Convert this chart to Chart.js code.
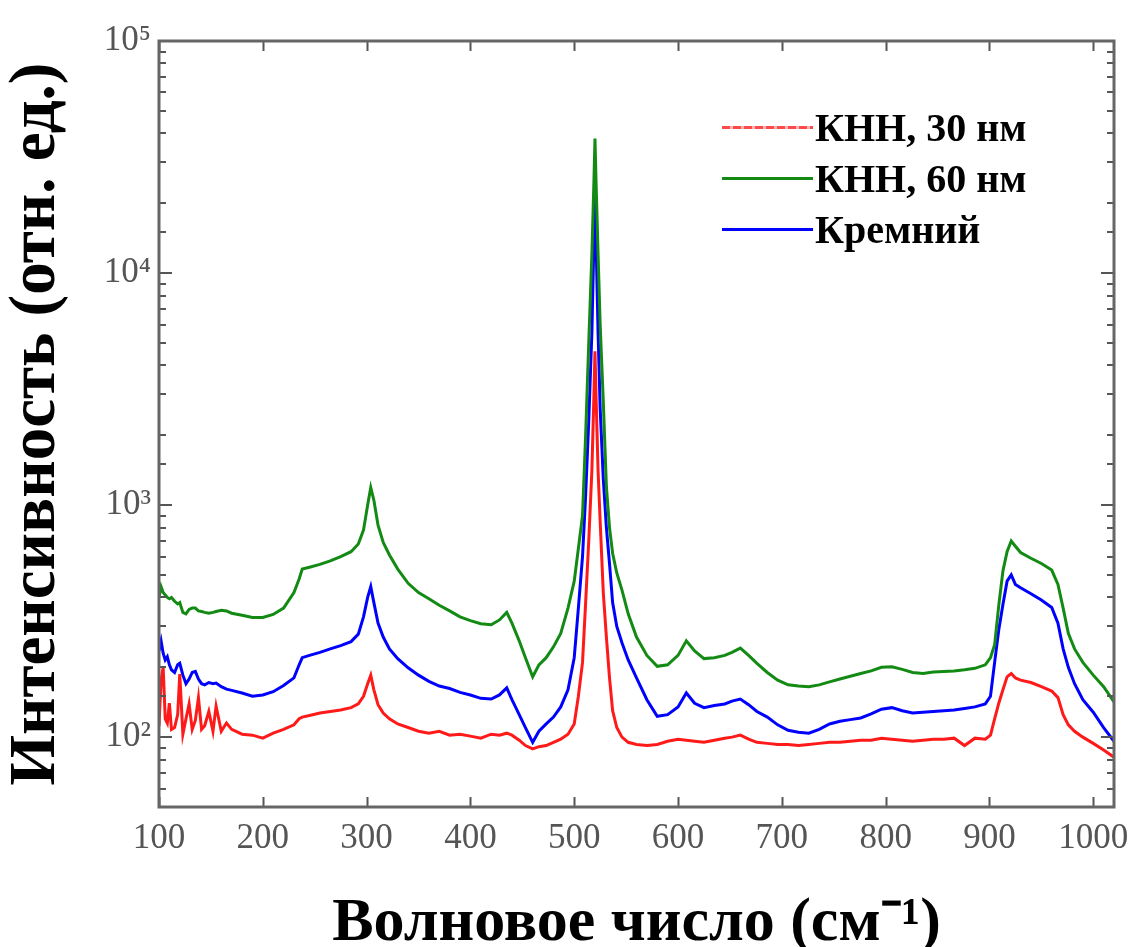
<!DOCTYPE html>
<html>
<head>
<meta charset="utf-8">
<script src="https://cdn.jsdelivr.net/npm/chart.js@4.4.0/dist/chart.umd.min.js"></script>
<style>
  body { margin: 0; background: #fff; }
  #wrap { position: relative; width: 1131px; height: 947px; }
  .legend { position: absolute; left: 722px; top: 102px; font-family: 'Liberation Serif', serif; font-weight: bold; font-size: 40px; color: #000; }
  .legend .row { display: flex; align-items: center; height: 51px; line-height: 51px; white-space: nowrap; }
  .legend .swatch { display: inline-block; width: 91px; height: 3px; margin-right: 2px; }
</style>
</head>
<body>
<div id="wrap">
  <canvas id="myChart"></canvas>
  <div class="legend" id="legend"></div>
</div>
<script>
// Wavenumbers (cm^-1) at which the spectra were read
const wavenumber = [
    100, 102, 104, 106, 108, 110, 112, 115, 118, 120, 123, 126, 129, 132, 135, 138, 141, 144, 148, 152, 155,
    160, 165, 170, 180, 190, 200, 210, 220, 230, 235, 238, 245, 255, 265, 275, 285, 292,
    297, 301, 304, 307, 311, 316, 322, 330, 340, 350, 360, 370, 380, 390, 400, 410, 420, 428, 435,
    440, 447, 453, 460, 466, 473, 480, 487, 494, 500,
    504, 508, 511, 514, 517, 519, 520, 521, 523, 525, 528, 531, 534, 537, 541, 546, 552,
    560, 570, 580, 590, 600, 608, 616, 625, 635, 645, 652, 660, 668, 676, 686, 696,
    706, 716, 726, 736, 746, 756, 766, 776, 786, 796, 806, 816, 826, 836, 846, 856, 866, 876, 886, 896,
    901, 905, 909, 913, 917, 921, 925, 930, 940, 950, 960, 966, 971, 976, 982, 990, 1000, 1010, 1020
];

// КНН, 30 нм
const knn30 = [
    112, 175, 200, 120, 115, 140, 108, 110, 125, 187, 103, 120, 139, 108, 118, 148, 108, 112, 129, 106, 136,
    106, 115, 108, 103, 102, 99, 104, 108, 113, 120, 122, 124, 127, 129, 131, 134, 139,
    150, 170, 185, 160, 138, 127, 120, 114, 110, 106, 104, 106, 102, 103, 101, 99, 103, 102, 104,
    102, 97, 92, 89, 91, 92, 95, 98, 103, 114,
    150, 210, 380, 700, 1400, 3000, 4600, 3000, 1400, 850, 420, 270, 180, 130, 110, 100, 95,
    93, 92, 93, 96, 98, 97, 96, 95, 97, 99, 100, 102, 98, 95, 94, 93,
    93, 92, 93, 94, 95, 95, 96, 97, 97, 99, 98, 97, 96, 97, 98, 98, 99, 92, 99, 98,
    102, 120, 140, 160, 182, 188, 180, 176, 172, 165, 158, 148, 125, 113, 106, 100, 94, 88, 82
];

// КНН, 60 нм
const knn60 = [
    400, 445, 420, 410, 400, 395, 400, 385, 375, 380, 345, 340, 355, 360, 360, 350, 348, 345, 342, 345, 348,
    352, 350, 342, 335, 328, 328, 338, 360, 420, 480, 530, 540, 555, 575, 600, 630, 680,
    780, 1000, 1190, 1050, 820, 690, 610, 530, 460, 420, 395, 370, 350, 330, 318, 308, 305, 320, 345,
    310, 260, 220, 182, 205, 220, 245, 280, 360, 470,
    650, 900, 2000, 5000, 12000, 25000, 38000, 25000, 12000, 6000, 2800, 1200, 800, 620, 510, 430, 340,
    270, 225, 202, 205, 225, 260, 235, 218, 220, 225, 232, 242, 225, 208, 190, 176,
    168, 166, 165, 168, 173, 178, 183, 188, 193, 200, 201, 196, 190, 188, 191, 192, 193, 195, 198, 205,
    220, 250, 370, 520, 630, 700, 665, 625, 590, 560, 525, 455, 360, 280, 240, 210, 185, 165, 142
];

// Кремний
const silicon = [
    235, 260, 230, 215, 222, 205, 195, 190, 205, 208, 185, 170, 178, 190, 192, 178, 170, 168, 172, 170, 171,
    165, 161, 159, 155, 150, 152, 157, 167, 180, 205, 220, 225, 232, 240, 248, 258, 278,
    330, 400, 445, 380, 310, 270, 240, 218, 199, 185, 174, 166, 162, 156, 152, 147, 146, 152, 163,
    145, 125, 110, 95, 106, 114, 122, 135, 160, 220,
    360, 600, 1100, 2300, 5500, 14000, 23500, 14000, 5500, 2600, 1300, 800, 560, 380, 300, 255, 215,
    180, 145, 123, 125, 135, 155, 140, 134, 137, 139, 143, 146, 138, 129, 122, 113,
    107, 105, 104, 108, 114, 117, 119, 121, 126, 132, 134, 130, 127, 128, 129, 130, 131, 133, 135, 139,
    150, 210, 290, 373, 470, 500, 455, 440, 415, 390, 362, 310, 240, 200, 170, 145, 128, 110, 96
];

const seriesNames = ['КНН, 30 нм', 'КНН, 60 нм', 'Кремний'];
const xTicks = [100, 200, 300, 400, 500, 600, 700, 800, 900, 1000];
const yTickValues = [100, 1000, 10000, 100000];
const yTickLabels = ['10²', '10³', '10⁴', '10⁵'];

const toPoints = vals => wavenumber.map((w, i) => ({ x: w, y: vals[i] }));

// Inward tick marks and the box around the plot (MATLAB style)
const frameTicks = {
    id: 'frameTicks',
    afterDatasetsDraw(chart) {
        const { ctx, chartArea: a, scales: { x, y } } = chart;
        ctx.save();
        ctx.strokeStyle = '#555';
        ctx.lineWidth = 2;
        const seg = (x1, y1, x2, y2) => { ctx.beginPath(); ctx.moveTo(x1, y1); ctx.lineTo(x2, y2); ctx.stroke(); };
        x.ticks.forEach(t => {
            const px = Math.round(x.getPixelForValue(t.value)) + 0.5;
            seg(px, a.bottom, px, a.bottom - 10);
            seg(px, a.top, px, a.top + 10);
        });
        y.ticks.forEach(t => {
            const py = Math.round(y.getPixelForValue(t.value));
            if (py < a.top || py > a.bottom) return;
            const len = yTickValues.includes(t.value) ? 13 : 7;
            seg(a.left, py, a.left + len, py);
            seg(a.right, py, a.right - len, py);
        });
        ctx.lineWidth = 3;
        ctx.strokeStyle = '#666';
        ctx.strokeRect(a.left, a.top, a.right - a.left, a.bottom - a.top);
        ctx.restore();
    }
};

const colors = ['#ff1a1a', '#138a13', '#0000ff'];

Chart.defaults.font.family = "'Liberation Serif', serif";

const ctx = document.getElementById('myChart').getContext('2d');
const myChart = new Chart(ctx, {
    type: 'line',
    data: {
        datasets: [{
            label: seriesNames[0],
            data: toPoints(knn30),
            borderColor: colors[0],
            borderWidth: 3,
            pointRadius: 0,
            tension: 0
        }, {
            label: seriesNames[1],
            data: toPoints(knn60),
            borderColor: colors[1],
            borderWidth: 3,
            pointRadius: 0,
            tension: 0
        }, {
            label: seriesNames[2],
            data: toPoints(silicon),
            borderColor: colors[2],
            borderWidth: 3,
            pointRadius: 0,
            tension: 0
        }]
    },
    options: {
        responsive: true,
        maintainAspectRatio: false,
        animation: false,
        layout: { padding: { top: 41, right: 17, left: 0, bottom: 0 } },
        plugins: {
            legend: { display: false },
            tooltip: { enabled: false }
        },
        scales: {
            x: {
                type: 'linear',
                min: 100,
                max: 1020,
                afterBuildTicks: scale => { scale.ticks = xTicks.map(v => ({ value: v })); },
                afterFit: scale => {
                    scale.height = 140;
                    scale.paddingLeft = 0;
                    scale.paddingRight = 0;
                },
                grid: { display: false, drawTicks: false },
                border: { display: false },
                ticks: {
                    padding: 11,
                    color: '#555',
                    font: { size: 35 },
                    maxRotation: 0,
                    autoSkip: false,
                    callback: v => String(v)
                },
                title: {
                    display: true,
                    text: 'Волновое число (см⁻¹)',
                    color: '#000',
                    font: { size: 62, weight: 'bold', lineHeight: 1 },
                    padding: { top: 0, bottom: -8 }
                }
            },
            y: {
                type: 'logarithmic',
                min: 50,
                max: 100000,
                afterFit: scale => {
                    scale.width = 159;
                    scale.paddingTop = 0;
                    scale.paddingBottom = 0;
                },
                grid: { display: false, drawTicks: false },
                border: { display: false },
                ticks: {
                    padding: 8,
                    color: '#555',
                    font: { size: 35 },
                    autoSkip: false,
                    callback: v => {
                        const i = yTickValues.indexOf(v);
                        return i >= 0 ? yTickLabels[i] : '';
                    }
                },
                title: {
                    display: true,
                    text: 'Интенсивность (отн. ед.)',
                    color: '#000',
                    font: { size: 65, weight: 'bold', lineHeight: 1.15 },
                    padding: 0
                }
            }
        }
    },
    plugins: [frameTicks]
});

// Legend inside the plot, top right
const legend = document.getElementById('legend');
seriesNames.forEach((name, i) => {
    const row = document.createElement('div');
    row.className = 'row';
    const swatch = document.createElement('span');
    swatch.className = 'swatch';
    swatch.style.background = i === 0
        ? 'repeating-linear-gradient(to right, #ff4a4a 0 8px, #ffb3b3 8px 11px)'
        : colors[i];
    row.appendChild(swatch);
    const txt = document.createElement('span');
    txt.textContent = name;
    row.appendChild(txt);
    legend.appendChild(row);
});
</script>
</body>
</html>
